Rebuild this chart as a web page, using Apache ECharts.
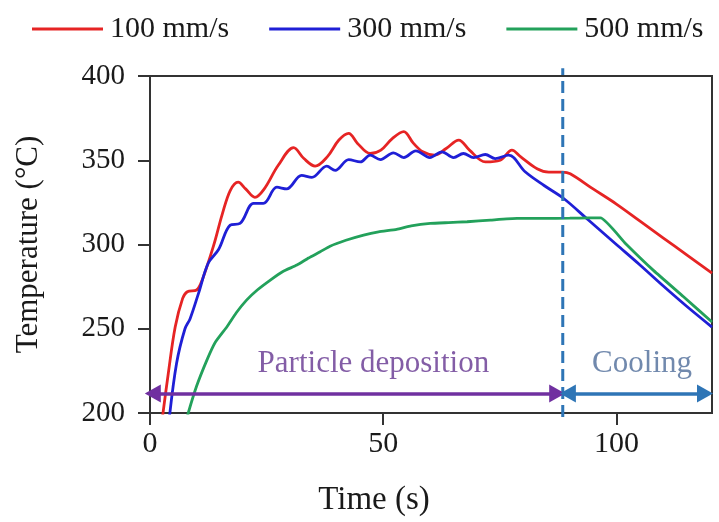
<!DOCTYPE html>
<html>
<head>
<meta charset="utf-8">
<script src="https://cdn.jsdelivr.net/npm/echarts@6/dist/echarts.min.js"></script>
<style>
  html, body { margin: 0; padding: 0; background: #ffffff; }
  #tempChart { width: 719px; height: 522px; }
</style>
</head>
<body>
<div id="tempChart"></div>
<script>
// 数据：时间 (s) 与温度 (°C)
var seriesNames = ["100 mm/s", "300 mm/s", "500 mm/s"];
var seriesColors = ["#e62424", "#1f1fd6", "#23a15b"];

var red100 = [
  [2.6, 196], [3.9, 223], [5.4, 251], [7.0, 268], [8.0, 272], [10, 273], [11.2, 279],
  [13.6, 299], [15.5, 318], [17.2, 332], [18.9, 337], [20.5, 333], [22.5, 328],
  [24.5, 333], [27.5, 347], [30.8, 357.5], [33, 351], [35.4, 346.5], [38, 352],
  [40.5, 362], [42.6, 366], [44.5, 360], [47.2, 354], [49.5, 356], [52, 363],
  [54.4, 367], [56.5, 360], [58.5, 355], [61, 353], [63.5, 357], [66.2, 362],
  [68.5, 356], [71.9, 349], [75.1, 350], [77.6, 356], [79.5, 352], [83, 345],
  [85.5, 343], [88.5, 343], [90.1, 342], [95, 333], [100, 324], [105, 314],
  [110, 304], [115, 294], [120.5, 283]
];
var blue300 = [
  [4.1, 196], [5.7, 229.5], [7.5, 250], [8.6, 256], [10.4, 271], [12.5, 289],
  [14.7, 297], [17.2, 311.5], [19.3, 312.5], [22.2, 324.4], [24.3, 324.4],
  [27.2, 334], [29.3, 333], [32.5, 341], [34.7, 339.8], [37.9, 346.5], [39.7, 344],
  [42.6, 350.4], [45.1, 349], [47.2, 353], [49.4, 350.4], [52.2, 354.4],
  [54.4, 351.6], [57, 355.6], [60, 351.6], [62.6, 355], [65.1, 351.6], [67.2, 354],
  [69.4, 351.6], [71.9, 353.4], [74, 351], [76.9, 353], [80.5, 343], [84.5, 335],
  [88.7, 327.3], [94, 314.5], [100, 300], [105, 288], [110, 275.5],
  [115, 263.5], [120.5, 251]
];
var green500 = [
  [7.9, 196], [8.2, 200], [10, 216], [12.2, 231.4], [14, 242], [16.5, 251.2],
  [18.5, 259.5], [20.7, 267], [23, 273], [25.8, 278.9], [28.5, 284], [31.5, 287.8],
  [34, 292], [36.5, 295.7], [38.6, 299], [42, 302.5], [45.8, 305.6], [49, 307.5],
  [52.9, 309], [56, 311], [60.1, 312.5], [64, 313], [68, 313.5], [73, 314.5],
  [78.7, 315.5], [84, 315.5], [90, 315.6], [94, 315.8], [96.6, 315.8],
  [102, 300.5], [108, 284.5], [114.4, 269], [120.5, 254]
];

var xTicks = [0, 50, 100];
var yTicks = [200, 250, 300, 350, 400];

// 阶段标注
var phaseNames = ["Particle deposition", "Cooling"];
var phaseColors = ["#7030a0", "#2e75b6"];
var phaseTextColors = ["#643490", "#4d6c98"];
var phaseStart = [0.6, 89.6];
var phaseEnd = [87.3, 119.0];
var phaseTextX = [47.9, 105.5];
var phaseArrowY = 211.5;
var phaseTextY = 229;
var splitTime = 88.5;
var splitRange = [197.6, 404.6];

var fontFamily = "'Liberation Serif', 'Times New Roman', serif";

var myChart = echarts.init(document.getElementById("tempChart"));

var lineData = [red100, blue300, green500];
var series = lineData.map(function (d, i) {
  return {
    name: seriesNames[i],
    type: "line",
    data: d,
    symbol: "none",
    smooth: i === 2 ? 0.15 : 0.35,
    lineStyle: { color: seriesColors[i], width: 2.8 },
    itemStyle: { color: seriesColors[i] },
    z: 3
  };
});

// 虚线分界
series.push({
  name: "split",
  type: "line",
  data: [[splitTime, splitRange[0]], [splitTime, splitRange[1]]],
  symbol: "none",
  clip: false,
  lineStyle: { color: "#2e75b6", width: 3, type: [12, 6] },
  z: 4,
  silent: true
});

// 双向箭头
series.push({
  name: "arrows",
  type: "line",
  data: [],
  silent: true,
  markLine: {
    silent: true,
    animation: false,
    symbol: ["triangle", "triangle"],
    symbolSize: [18, 16],
    label: { show: false },
    data: phaseNames.map(function (n, i) {
      return [
        { coord: [phaseStart[i], phaseArrowY], lineStyle: { color: phaseColors[i], width: 3.5, type: "solid" }, itemStyle: { color: phaseColors[i] } },
        { coord: [phaseEnd[i], phaseArrowY] }
      ];
    })
  },
  z: 5
});

// 阶段文字
series.push({
  name: "phaseText",
  type: "scatter",
  symbolSize: 0,
  silent: true,
  data: phaseNames.map(function (n, i) {
    return {
      value: [phaseTextX[i], phaseTextY],
      label: {
        show: true,
        position: "inside",
        formatter: n,
        color: phaseTextColors[i],
        fontSize: 31,
        fontFamily: fontFamily
      }
    };
  })
});

var chartOptions = {
  backgroundColor: "#ffffff",
  animation: false,
  textStyle: { fontFamily: fontFamily },
  legend: {
    data: seriesNames,
    left: 27,
    top: 9,
    icon: "rect",
    itemWidth: 71,
    itemHeight: 3,
    itemGap: 40,
    textStyle: {
      fontSize: 30,
      color: "#1a1a1a",
      fontFamily: fontFamily,
      padding: [0, 0, 0, 2]
    }
  },
  grid: {
    left: 150,
    right: 7,
    top: 76,
    bottom: 109,
    show: true,
    borderColor: "#333333",
    borderWidth: 2,
    backgroundColor: "transparent"
  },
  xAxis: {
    type: "value",
    min: 0,
    max: 120.5,
    interval: 50,
    axisLine: { show: true, lineStyle: { color: "#333333", width: 2 } },
    axisTick: { show: true, length: 12, customValues: xTicks, lineStyle: { color: "#333333", width: 2 } },
    axisLabel: { customValues: xTicks, margin: 16, fontSize: 30, color: "#1a1a1a", fontFamily: fontFamily },
    splitLine: { show: false }
  },
  yAxis: {
    type: "value",
    min: 200,
    max: 400,
    interval: 50,
    name: "Temperature (°C)",
    nameLocation: "middle",
    nameGap: 106,
    nameTextStyle: { fontSize: 31, color: "#1a1a1a", fontFamily: fontFamily },
    axisLine: { show: true, lineStyle: { color: "#333333", width: 2 } },
    axisTick: { show: true, length: 12, lineStyle: { color: "#333333", width: 2 } },
    axisLabel: { margin: 25, fontSize: 29, color: "#1a1a1a", fontFamily: fontFamily },
    splitLine: { show: false }
  },
  graphic: [
    {
      type: "text",
      x: 374,
      y: 500,
      style: {
        text: "Time (s)",
        fontSize: 33,
        fontFamily: fontFamily,
        fill: "#1a1a1a",
        textAlign: "center",
        textVerticalAlign: "middle"
      }
    }
  ],
  series: series
};

myChart.setOption(chartOptions);
window.onresize = function () {
  myChart.resize();
};
</script>
</body>
</html>
